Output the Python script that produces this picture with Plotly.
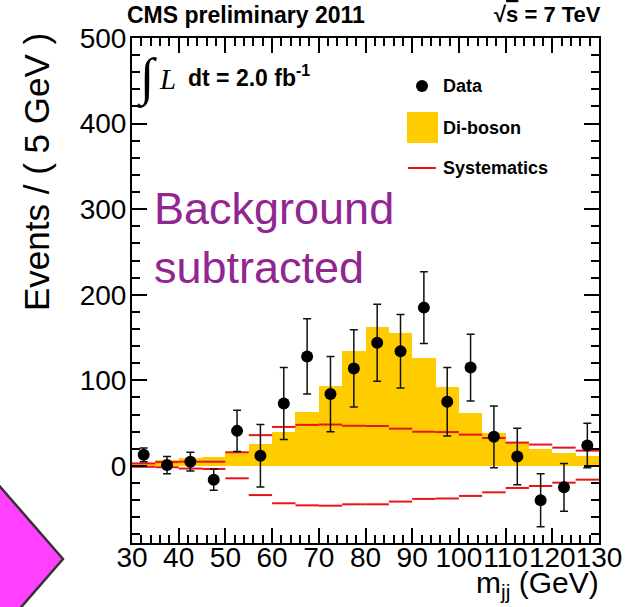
import plotly.graph_objects as go

# ---------------- data ----------------
bin_lo = [30, 35, 40, 45, 50, 55, 60, 65, 70, 75, 80, 85, 90, 95, 100, 105, 110, 115, 120, 125]
bin_width = 5
bin_center = [b + 2.5 for b in bin_lo]

data_vals = [13, 1, 5, -16, 41, 12, 73, 128, 84, 114, 144, 134, 185, 75, 115, 34, 11, -40, -25, 24]
data_err = [8, 10, 11, 12.5, 24, 36.5, 42, 44, 44, 45, 45, 43, 42, 40, 39, 36, 33, 31, 28, 26]

diboson = [4, 7, 9.5, 10, 16, 26, 40, 63, 94, 134, 162, 155, 126, 92, 61.5, 38, 26.5, 20, 15, 12]

syst_up = [3, 4.5, 5, 5, 16, 36, 45.6, 48, 48.4, 47, 46.7, 43.6, 40, 39.6, 36.6, 32.7, 27.3, 25, 21.4, 17.9]
syst_dn = [-1, -1.5, -3, -3.5, -14.4, -34, -43.6, -46, -46.4, -44.8, -44.8, -41.6, -38.5, -38, -35, -30.8, -25.7, -23.4, -19.5, -16]

x_ticks = [30, 40, 50, 60, 70, 80, 90, 100, 110, 120, 130]
y_ticks = [0, 100, 200, 300, 400, 500]

# ---------------- layout constants ----------------
W, H = 627, 607
ML, MR, MT, MB = 132, 28, 38, 64
PW, PH = W - ML - MR, H - MT - MB
FONT = "Liberation Sans, Arial, Helvetica, sans-serif"
SERIF = "Liberation Serif, Times New Roman, serif"
YELLOW = "#FFCC00"
RED = "#E8141C"


def px(xp):
    return (xp - ML) / PW


def py(yp):
    return (H - MB - yp) / PH


fig = go.Figure()

# Di-boson histogram
fig.add_trace(go.Bar(
    x=bin_center, y=diboson, width=[bin_width] * len(bin_lo),
    marker=dict(color=YELLOW, line=dict(width=0)),
    name="Di-boson", showlegend=False, hoverinfo="skip"))

# Systematics segments
def segs(vals):
    xs, ys = [], []
    for lo, v in zip(bin_lo, vals):
        xs += [lo, lo + bin_width, None]
        ys += [v, v, None]
    return xs, ys

for vals in (syst_up, syst_dn):
    xs, ys = segs(vals)
    fig.add_trace(go.Scatter(x=xs, y=ys, mode="lines",
                             line=dict(color=RED, width=2),
                             name="Systematics", showlegend=False, hoverinfo="skip"))

# Data
fig.add_trace(go.Scatter(
    x=bin_center, y=data_vals, mode="markers",
    marker=dict(color="black", size=12),
    error_y=dict(type="data", array=data_err, color="#111", thickness=1.5, width=4),
    name="Data", showlegend=False))

axis_common = dict(
    showline=True, linewidth=2, linecolor="black", mirror="allticks",
    ticks="inside", ticklen=15, tickwidth=1.5, tickcolor="black",
    showgrid=False, automargin=False,
    tickfont=dict(family=FONT, size=28, color="black"),
)

fig.update_xaxes(range=[30, 130], tickvals=x_ticks, ticktext=[str(v) for v in x_ticks],
                 tickangle=0, zeroline=False, ticklabelstandoff=-12,
                 minor=dict(ticks="inside", ticklen=8, tickwidth=1.5, tickcolor="black",
                            dtick=2, tick0=30, showgrid=False),
                 **axis_common)
fig.update_yaxes(range=[-90, 500], tickvals=y_ticks, ticktext=[str(v) for v in y_ticks],
                 zeroline=True, zerolinecolor="#444", zerolinewidth=1, ticklabelstandoff=-2,
                 minor=dict(ticks="inside", ticklen=8, tickwidth=1.5, tickcolor="black",
                            dtick=20, tick0=0, showgrid=False),
                 **axis_common)

shapes = []
annotations = []

# magenta diamond (decoration, bottom-left)
dia = [(-37, 444), (63, 559), (-37, 674), (-137, 559)]
path = "M " + " L ".join(f"{px(a):.4f},{py(b):.4f}" for a, b in dia) + " Z"
shapes.append(dict(type="path", xref="paper", yref="paper", path=path,
                   fillcolor="#FF40FF", line=dict(color="#333333", width=2.5), layer="above"))

# custom legend
shapes.append(dict(type="circle", xref="paper", yref="paper",
                   x0=px(416), x1=px(428), y0=py(92), y1=py(80),
                   fillcolor="black", line=dict(width=0)))
shapes.append(dict(type="rect", xref="paper", yref="paper",
                   x0=px(407), x1=px(438), y0=py(143), y1=py(112),
                   fillcolor=YELLOW, line=dict(width=0)))
shapes.append(dict(type="line", xref="paper", yref="paper",
                   x0=px(408), x1=px(436), y0=py(168), y1=py(168),
                   line=dict(color=RED, width=2)))
for txt, yy in (("Data", 86), ("Di-boson", 128), ("Systematics", 168)):
    annotations.append(dict(text=f"<b>{txt}</b>", xref="paper", yref="paper",
                            x=px(441), y=py(yy), xanchor="left", yanchor="middle",
                            showarrow=False, font=dict(family=FONT, size=18, color="black")))

# header texts
annotations.append(dict(text="<b>CMS preliminary 2011</b>", xref="paper", yref="paper",
                        x=px(125), y=py(15), xanchor="left", yanchor="middle", showarrow=False,
                        font=dict(family=FONT, size=23, color="black")))
annotations.append(dict(text="<b>√<span style='text-decoration:overline'>s</span> = 7 TeV</b>",
                        xref="paper", yref="paper",
                        x=px(603), y=py(15), xanchor="right", yanchor="middle", showarrow=False,
                        font=dict(family=FONT, size=22, color="black")))

# luminosity
annotations.append(dict(text="∫", xref="paper", yref="paper",
                        x=px(147), y=py(78), xanchor="center", yanchor="middle", showarrow=False,
                        font=dict(family=SERIF, size=52, color="black")))
annotations.append(dict(text="<i>L</i>", xref="paper", yref="paper",
                        x=px(157), y=py(79), xanchor="left", yanchor="middle", showarrow=False,
                        font=dict(family=SERIF, size=29, color="black")))
annotations.append(dict(text="<b>dt = 2.0 fb<sup>-1</sup></b>", xref="paper", yref="paper",
                        x=px(186), y=py(76), xanchor="left", yanchor="middle", showarrow=False,
                        font=dict(family=FONT, size=23, color="black")))

# Background subtracted
annotations.append(dict(text="Background<br>subtracted", xref="paper", yref="paper",
                        x=px(152), y=py(181), xanchor="left", yanchor="top", align="left",
                        showarrow=False, font=dict(family=FONT, size=45, color="#912591")))

# axis titles
annotations.append(dict(text="Events / ( 5 GeV )", xref="paper", yref="paper",
                        x=px(36), y=py(31), xanchor="center", yanchor="top", textangle=-90,
                        showarrow=False, font=dict(family=FONT, size=35, color="black")))
annotations.append(dict(text="m<sub>jj</sub> (GeV)", xref="paper", yref="paper",
                        x=px(601), y=py(584), xanchor="right", yanchor="middle",
                        showarrow=False, font=dict(family=FONT, size=30, color="black")))

fig.update_layout(
    width=W, height=H,
    margin=dict(l=ML, r=MR, t=MT, b=MB, autoexpand=False),
    plot_bgcolor="white", paper_bgcolor="white",
    bargap=0, showlegend=False,
    shapes=shapes, annotations=annotations,
    font=dict(family=FONT, color="black"),
)

fig.write_html("out.html", config={"displayModeBar": False},
               post_script="document.body.style.margin='0';")
